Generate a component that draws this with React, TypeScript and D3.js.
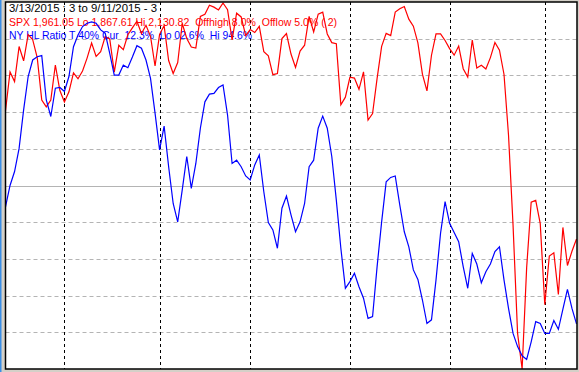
import React from "react";
import * as d3 from "d3";

// S&P 500 daily closes, 3/13/2015 .. 9/11/2015 (127 trading days)
const spx: number[] = [
  2053.40, 2081.19, 2074.28, 2099.50, 2089.27, 2108.10, 2104.42, 2091.50, 2061.05, 2056.15, 2061.02, 2086.24, 2067.89,
  2059.69, 2066.96, 2080.62, 2076.33, 2081.90, 2091.18, 2102.06, 2092.43, 2095.84, 2106.63, 2104.99, 2081.18, 2100.40, 2097.29, 2107.96, 2112.93, 2117.69, 2108.92, 2114.76, 2106.85, 2085.51,
  2108.29, 2114.49, 2089.46, 2080.15, 2088.00, 2116.10, 2105.33, 2099.12, 2098.48, 2121.10, 2122.73, 2129.20, 2127.83, 2125.85, 2130.82, 2126.06, 2104.20, 2123.48, 2120.79, 2107.39,
  2111.73, 2109.60, 2114.07, 2095.84, 2092.83, 2079.28, 2080.15, 2105.20, 2108.86, 2094.11, 2084.43, 2096.29, 2100.44, 2121.24, 2109.99, 2122.85, 2124.20, 2108.58, 2102.31, 2101.49, 2057.64, 2063.11,
  2077.42, 2076.78, 2068.76, 2081.34, 2046.68, 2051.31, 2076.62, 2099.60, 2108.95, 2107.40, 2124.29, 2126.64, 2128.28, 2119.21, 2114.15, 2102.15, 2079.65, 2067.64, 2093.25, 2108.57, 2108.63, 2103.84,
  2098.04, 2093.32, 2099.84, 2083.56, 2077.57, 2104.18, 2084.07, 2086.05, 2083.39, 2091.54, 2102.44, 2096.92, 2079.61, 2035.73, 1970.89, 1893.21, 1867.61, 1940.51, 1987.66, 1988.87, 1972.18,
  1913.85, 1948.86, 1951.13, 1921.22, 1969.41, 1942.04, 1952.29, 1961.05,
];

// NY high/low ratio (%)
const hlRatio: number[] = [
  44.2, 50.0, 53.8, 60.1, 70.6, 79.7, 84.2, 85.1, 85.4, 73.3, 68.8, 76.5, 76.7,
  75.6, 79.7, 87.8, 91.0, 93.3, 94.2, 94.6, 94.2, 92.4, 91.5, 86.0, 80.1, 80.1, 82.8, 82.1, 85.0, 88.1, 87.4, 84.2, 79.2, 69.7,
  59.7, 66.2, 55.1, 45.1, 40.1, 48.8, 57.9, 49.2, 56.0, 65.6, 72.8, 74.9, 75.1, 76.7, 77.4, 69.2, 56.0, 56.9, 55.1, 52.6,
  51.5, 55.6, 58.3, 48.3, 39.9, 37.9, 32.9, 43.8, 47.1, 42.0, 37.4, 40.1, 45.1, 55.1, 56.9, 65.6, 68.9, 65.6, 57.9, 46.0, 32.9, 22.0,
  23.8, 26.1, 22.4, 19.3, 13.8, 14.3, 27.9, 40.1, 51.0, 52.2, 52.6, 44.7, 37.4, 33.3, 27.0, 24.4, 18.8, 12.4, 13.4, 24.3, 37.0, 45.6,
  39.7, 37.2, 34.7, 27.9, 22.0, 31.5, 28.6, 23.5, 26.5, 28.6, 32.0, 33.3, 24.3, 16.5, 9.7, 6.1, 3.6, 2.6, 7.4, 12.9, 12.4,
  9.7, 9.7, 13.2, 10.8, 16.3, 21.7, 16.5, 12.3,
];

// first trading day of each month (index into the series)
const monthStarts: number[] = [13, 34, 54, 76, 98, 119];
const gridTicks: number[] = [10, 20, 30, 40, 50, 60, 70, 80, 90];

const headerLines: string[] = [
  "3/13/2015 : 3 to 9/11/2015 - 3",
  "SPX 1,961.05 Lo 1,867.61 Hi 2,130.82  Offhigh 8.0%  Offlow 5.0% ( 2)",
  "NY HL Ratio T 40% Cur  12.3%  Lo 02.6%  Hi 94.6%",
];
const headerColors: string[] = ["#000000", "#ff0000", "#0000ff"];

const W = 579;
const H = 372;
const L = 5.5;
const R = 577;
const T = 2;
const B = 369;

export default function App() {
  const x = d3.scaleLinear().domain([0, spx.length - 1]).range([L, R - 0.5]);
  const ySpx = d3.scaleLinear().domain([d3.min(spx)!, d3.max(spx)!]).range([B, T + 1]);
  const yPct = d3.scaleLinear().domain([0, 100]).range([B, T]);

  const spxLine = d3.line<number>().x((_, i) => x(i)).y((d) => ySpx(d))(spx) || "";
  const hlLine = d3.line<number>().x((_, i) => x(i)).y((d) => yPct(d))(hlRatio) || "";

  const headerX = 9;
  const headerY = [11.5, 26, 38.5];
  const headerLen = [148, 328, 243];

  return (
    <div style={{ position: "fixed", left: 0, top: 0, width: W, height: H }}>
      <svg width={W} height={H} style={{ display: "block" }}>
        <rect x={0} y={0} width={W} height={H} fill="#d4d0c8" />
        <rect x={0} y={0} width={1.5} height={H} fill="#3a8ee6" />
        <rect x={L} y={T} width={R - L} height={B - T} fill="#ffffff" />
        {gridTicks.map((t) => (
          <line
            key={t}
            x1={L}
            x2={R}
            y1={Math.round(yPct(t)) + 0.5}
            y2={Math.round(yPct(t)) + 0.5}
            stroke="#b4b4b4"
            strokeWidth={1}
            strokeDasharray={t === 50 ? undefined : "4,3"}
          />
        ))}
        {monthStarts.map((m) => (
          <line
            key={m}
            x1={Math.round(x(m)) + 0.5}
            x2={Math.round(x(m)) + 0.5}
            y1={T}
            y2={B}
            stroke="#000000"
            strokeWidth={1}
            strokeDasharray="3,3"
          />
        ))}
        {headerLines.map((s, i) => (
          <text
            key={i}
            x={headerX}
            y={headerY[i]}
            fill={headerColors[i]}
            fontFamily="'Liberation Sans', Arial, sans-serif"
            fontSize={11}
            textLength={headerLen[i]}
            lengthAdjust="spacingAndGlyphs"
            style={{ whiteSpace: "pre" }}
          >
            {s}
          </text>
        ))}
        <path d={spxLine} fill="none" stroke="#ff0000" strokeWidth={1.2} />
        <path d={hlLine} fill="none" stroke="#0000ff" strokeWidth={1.2} />
        <rect x={L} y={T} width={R - L} height={B - T} fill="none" stroke="#000000" strokeWidth={1.5} />
      </svg>
    </div>
  );
}
